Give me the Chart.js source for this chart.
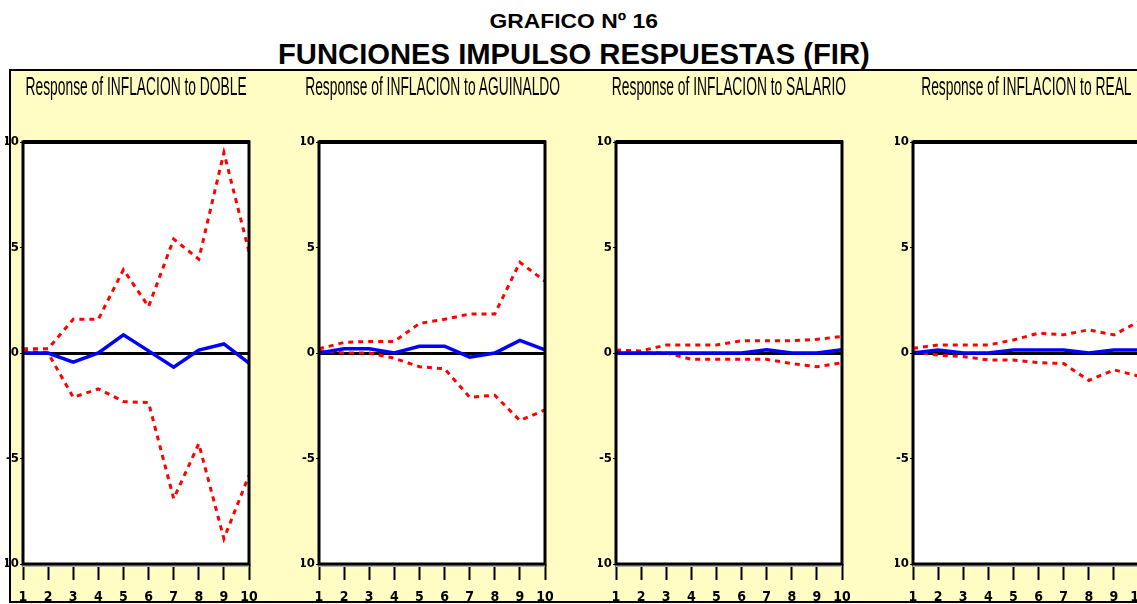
<!DOCTYPE html>
<html>
<head>
<meta charset="utf-8">
<script src="https://cdn.jsdelivr.net/npm/chart.js@4.4.1/dist/chart.umd.min.js"></script>
<style>
html, body { margin: 0; padding: 0; width: 1137px; height: 604px; overflow: hidden; background: #fff; }
.head { position: absolute; white-space: nowrap; font-family: "Liberation Sans", Arial, sans-serif; font-weight: bold; line-height: 1; color: #000; transform-origin: center; }
#frame { position: absolute; left: 9px; top: 69px; width: 1150px; height: 530px; background: #FFFDC4; border: 2px solid #000; }
.ptitle { position: absolute; top: 74px; white-space: nowrap; font-family: "Liberation Sans", Arial, sans-serif; font-size: 25px; line-height: 1; color: #000; transform-origin: center; }
canvas { position: absolute; top: 70px; }
</style>
</head>
<body>
<div id="frame"></div>
<div class="head" id="head1" style="top:11px;font-size:20px;">GRAFICO Nº 16</div>
<div class="head" id="head2" style="top:39px;font-size:30px;">FUNCIONES IMPULSO RESPUESTAS (FIR)</div>
<canvas id="irfDoble" width="262" height="534" style="left:-5px"></canvas>
<canvas id="irfAguinaldo" width="262" height="534" style="left:291px"></canvas>
<canvas id="irfSalario" width="262" height="534" style="left:588px"></canvas>
<canvas id="irfReal" width="262" height="534" style="left:885px"></canvas>
<script>
var periods = ["1", "2", "3", "4", "5", "6", "7", "8", "9", "10"];
var yMin = -10;
var yMax = 10;
var yStep = 5;

var panelTitles = [
  "Response of INFLACION to DOBLE",
  "Response of INFLACION to AGUINALDO",
  "Response of INFLACION to SALARIO",
  "Response of INFLACION to REAL"
];

// DOBLE
var dobleResponse = [0, 0, -0.43, 0, 0.86, 0.1, -0.67, 0.14, 0.43, -0.48];
var dobleUpper = [0.2, 0.2, 1.6, 1.6, 3.95, 2.2, 5.4, 4.45, 9.5, 4.8];
var dobleLower = [0.1, 0, -2.1, -1.7, -2.3, -2.35, -6.9, -4.3, -8.8, -5.8];

// AGUINALDO
var aguinaldoResponse = [0, 0.2, 0.2, 0, 0.32, 0.32, -0.2, 0, 0.6, 0.15];
var aguinaldoUpper = [0.2, 0.5, 0.55, 0.55, 1.4, 1.6, 1.85, 1.85, 4.3, 3.4];
var aguinaldoLower = [0.1, 0, 0, -0.25, -0.65, -0.75, -2.1, -2.0, -3.2, -2.7];

// SALARIO
var salarioResponse = [0, 0, 0, 0, 0, 0, 0.15, 0, 0, 0.15];
var salarioUpper = [0.14, 0.1, 0.38, 0.38, 0.38, 0.58, 0.58, 0.58, 0.65, 0.78];
var salarioLower = [0.06, 0, 0, -0.3, -0.3, -0.3, -0.3, -0.5, -0.65, -0.46];

// REAL
var realResponse = [0, 0.14, 0, 0, 0.14, 0.14, 0.14, 0, 0.14, 0.14];
var realUpper = [0.22, 0.38, 0.38, 0.38, 0.62, 0.94, 0.86, 1.1, 0.86, 1.5];
var realLower = [0.06, -0.1, -0.17, -0.33, -0.33, -0.46, -0.5, -1.3, -0.8, -1.1];

var plotLefts = [23, 319, 616, 913];
var plotWidth = 226;

// white plot area + black box round it
var plotFrame = {
  id: "plotFrame",
  beforeDraw: function (chart) {
    var a = chart.chartArea;
    var ctx = chart.ctx;
    ctx.save();
    ctx.fillStyle = "#ffffff";
    ctx.fillRect(a.left, a.top, a.right - a.left, a.bottom - a.top);
    ctx.restore();
  },
  afterDatasetsDraw: function (chart) {
    var a = chart.chartArea;
    var ctx = chart.ctx;
    ctx.save();
    ctx.strokeStyle = "#b0b0b0";
    ctx.lineWidth = 2;
    ctx.beginPath();
    ctx.moveTo(a.left, a.bottom + 2);
    ctx.lineTo(a.right, a.bottom + 2);
    ctx.stroke();
    ctx.strokeStyle = "#000000";
    ctx.lineWidth = 3;
    ctx.strokeRect(a.left, a.top, a.right - a.left, a.bottom - a.top);
    ctx.lineWidth = 4;
    ctx.beginPath();
    ctx.moveTo(a.left, a.top);
    ctx.lineTo(a.right + 1, a.top);
    ctx.stroke();
    ctx.restore();
  }
};

var tickFont = "'Liberation Sans Narrow', 'DejaVu Sans Condensed', sans-serif";

function makePanel(canvasId, response, upper, lower) {
  var ctx = document.getElementById(canvasId).getContext("2d");
  return new Chart(ctx, {
    type: "line",
    data: {
      labels: periods,
      datasets: [
        {
          label: "Response",
          data: response,
          borderColor: "#0000FF",
          borderWidth: 3.5,
          pointRadius: 0,
          tension: 0
        },
        {
          label: "+2 S.E.",
          data: upper,
          borderColor: "#FF0000",
          borderWidth: 3,
          borderDash: [5, 5],
          pointRadius: 0,
          tension: 0
        },
        {
          label: "-2 S.E.",
          data: lower,
          borderColor: "#FF0000",
          borderWidth: 3,
          borderDash: [5, 5],
          pointRadius: 0,
          tension: 0
        }
      ]
    },
    options: {
      responsive: false,
      animation: false,
      layout: {
        padding: { top: 72, right: 8, bottom: 0, left: 10 }
      },
      plugins: {
        legend: { display: false },
        tooltip: { enabled: false }
      },
      scales: {
        x: {
          offset: false,
          border: { display: false },
          grid: {
            drawOnChartArea: false,
            tickLength: 16,
            tickColor: "#000",
            tickWidth: 2
          },
          ticks: {
            color: "#000",
            padding: 9,
            maxRotation: 0,
            font: { family: tickFont, size: 14, weight: "bold" }
          },
          afterFit: function (scale) {
            scale.height = 40;
            scale.paddingLeft = 0;
            scale.paddingRight = 0;
          }
        },
        y: {
          min: yMin,
          max: yMax,
          border: { display: false },
          grid: {
            color: function (c) { return c.tick && c.tick.value === 0 ? "#000" : "rgba(0,0,0,0)"; },
            lineWidth: 3,
            tickLength: 3,
            tickColor: "#000",
            tickWidth: 1
          },
          ticks: {
            stepSize: yStep,
            color: "#000",
            padding: 1,
            font: { family: tickFont, size: 13, weight: "bold" }
          },
          afterFit: function (scale) {
            scale.width = 18;
            scale.paddingTop = 0;
            scale.paddingBottom = 0;
          }
        }
      }
    },
    plugins: [plotFrame]
  });
}

var irfDoble = makePanel("irfDoble", dobleResponse, dobleUpper, dobleLower);
var irfAguinaldo = makePanel("irfAguinaldo", aguinaldoResponse, aguinaldoUpper, aguinaldoLower);
var irfSalario = makePanel("irfSalario", salarioResponse, salarioUpper, salarioLower);
var irfReal = makePanel("irfReal", realResponse, realUpper, realLower);

// squeeze the titles like the original narrow lettering
function placeText(el, centerX, targetWidth) {
  var w = el.offsetWidth;
  el.style.left = (centerX - w / 2) + "px";
  el.style.transform = "scaleX(" + (targetWidth / w) + ")";
}

placeText(document.getElementById("head1"), 573, 168);
placeText(document.getElementById("head2"), 574, 592);

var titleScale = 1;
for (var i = 0; i < panelTitles.length; i++) {
  var t = document.createElement("div");
  t.className = "ptitle";
  t.textContent = panelTitles[i];
  document.body.appendChild(t);
  var w = t.offsetWidth;
  if (i === 0) titleScale = 221 / w;
  t.style.left = (plotLefts[i] + plotWidth / 2 - w / 2) + "px";
  t.style.transform = "scaleX(" + titleScale + ")";
}
</script>
</body>
</html>
